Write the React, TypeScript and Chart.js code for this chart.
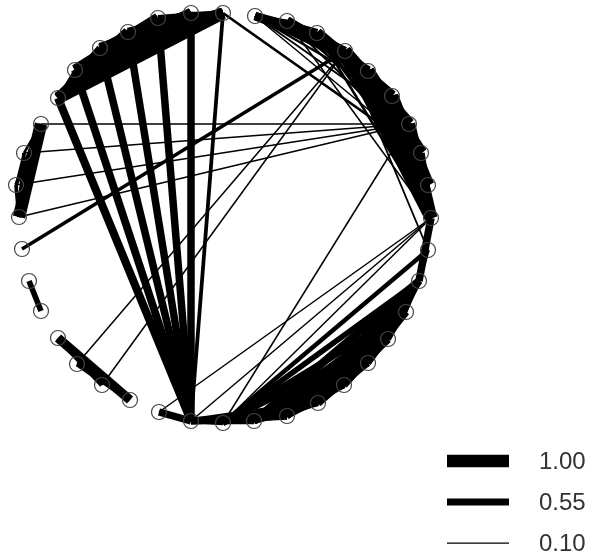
import React, { useEffect, useRef } from "react";
import { Chart, registerables } from "chart.js";

Chart.register(...registerables);

const nodeX = [223,255,287,317,345,368,392,409,421,428,431,428,419,406,388,368,344,318,287,254,223,191,159,130,102,77,58,41,29,22,19,16,24,41,58,75,100,128,158,191];
const nodeY = [13,16,21,33,51,71,96,124,153,185,218,250,281,312,339,363,385,403,416,421,423,421,412,400,385,364,338,311,281,249,217,185,153,124,98,70,48,32,18,13];

const edgeFrom = [
  // top-left group
  34,34,34,34,34,34,35,35,35,35,35,36,36,36,36,37,37,37,38,38,39,
  // hub 21 to the top-left group
  21,21,21,21,21,21,21,
  // left group
  33,33,33,32,32,31,
  // small groups
  27,26,26,25,22,21,21,21,21,
  // long thin lines
  33,32,31,30,0,29,25,24,22,21,20,20,20,20,4,
  // top-right band
  1,1,1,1,1,1,1,2,2,2,2,2,2,3,3,3,3,3,3,4,4,4,4,4,5,5,5,5,5,6,6,6,6,7,7,7,8,8,9,2,3,4,
  // lower-right mass
  20,20,19,19,19,19,18,18,18,18,18,17,17,17,17,16,16,16,15,15,14,14,13,12,12,20,19,18,19,18,17,16,15
];
const edgeTo = [
  0,35,36,37,38,39,36,37,38,39,0,37,38,39,0,38,39,0,39,0,0,
  34,35,36,37,38,39,0,
  32,31,30,31,30,30,
  28,23,24,23,21,20,19,18,17,
  7,7,7,7,8,4,4,4,10,10,7,10,11,12,11,
  2,3,4,5,6,7,8,3,4,5,6,7,8,4,5,6,7,8,9,5,6,7,8,9,6,7,8,9,10,7,8,9,10,8,9,10,9,10,10,10,10,10,
  13,14,13,14,15,16,13,14,15,16,17,14,15,16,13,15,14,13,14,13,13,12,12,11,10,16,17,19,12,12,12,12,12
];
const edgeWeight = [
  1.0,0.2,0.55,0.85,0.85,0.8,0.2,0.55,0.85,0.85,0.85,0.2,0.55,0.7,0.85,0.2,0.55,0.7,0.2,0.5,0.2,
  0.65,0.62,0.6,0.6,0.6,0.6,0.3,
  0.2,0.3,1.0,0.2,0.3,0.3,
  0.45,0.75,0.4,0.4,0.6,0.35,0.5,0.6,0.5,
  0.12,0.12,0.12,0.12,0.22,0.28,0.12,0.12,0.12,0.12,0.12,0.12,0.35,0.45,0.15,
  0.25,0.65,0.7,0.3,0.2,0.15,0.12,0.25,0.65,0.8,0.35,0.2,0.15,0.25,0.65,0.9,0.5,0.25,0.3,0.25,0.6,1,1,1,0.25,0.6,1,1,1,0.25,0.6,1,1,0.25,0.6,1,0.25,0.6,0.25,0.12,0.2,1,
  0.5,0.5,0.5,0.5,0.55,0.5,0.55,0.5,0.5,0.5,0.25,0.65,0.5,0.25,0.6,0.25,0.5,0.6,0.25,0.5,0.25,0.5,0.25,0.3,0.6,0.3,0.5,0.3,0.65,0.6,0.55,0.5,0.5
];

const legendValues = [1.0, 0.55, 0.1];
const legendLabels = ["1.00", "0.55", "0.10"];
const legendRowY = [461, 502, 543];
const legendLineX = [447, 509];
const legendTextX = 539;
const widthPerUnit = 12.5;

const textPlugin = {
  id: "legendText",
  afterDraw(chart: any) {
    const { ctx, scales } = chart;
    ctx.save();
    ctx.font = '24px "Liberation Sans", Arial, sans-serif';
    ctx.fillStyle = "#333333";
    ctx.textBaseline = "middle";
    ctx.textAlign = "left";
    legendLabels.forEach((t, i) => {
      ctx.fillText(t, scales.x.getPixelForValue(legendTextX), scales.y.getPixelForValue(legendRowY[i]) + 1);
    });
    ctx.restore();
  },
};

export default function App() {
  const ref = useRef<HTMLCanvasElement>(null);
  useEffect(() => {
    const edges = edgeFrom.map((a, i) => ({
      type: "line" as const,
      data: [
        { x: nodeX[a], y: nodeY[a] },
        { x: nodeX[edgeTo[i]], y: nodeY[edgeTo[i]] },
      ],
      borderColor: "#000000",
      borderWidth: edgeWeight[i] * widthPerUnit,
      borderCapStyle: "butt" as const,
      pointRadius: 0,
      tension: 0,
      order: 2,
    }));
    const legendLines = legendValues.map((v, i) => ({
      type: "line" as const,
      data: legendLineX.map((x) => ({ x, y: legendRowY[i] })),
      borderColor: "#000000",
      borderWidth: v * widthPerUnit,
      borderCapStyle: "butt" as const,
      pointRadius: 0,
      order: 2,
    }));
    const nodes = {
      type: "scatter" as const,
      data: nodeX.map((x, i) => ({ x, y: nodeY[i] })),
      pointRadius: 7.5,
      pointBackgroundColor: "rgba(255,255,255,0)",
      pointBorderColor: "#444444",
      pointBorderWidth: 1.2,
      showLine: false,
      order: 1,
    };
    const chart = new Chart(ref.current!, {
      type: "scatter",
      data: { datasets: [...edges, ...legendLines, nodes] as any },
      options: {
        responsive: false,
        animation: false,
        layout: { padding: 0, autoPadding: false },
        plugins: { legend: { display: false }, tooltip: { enabled: false } },
        scales: {
          x: { type: "linear", min: 0, max: 590, display: false },
          y: { type: "linear", min: 0, max: 554, reverse: true, display: false },
        },
      },
      plugins: [textPlugin],
    });
    return () => chart.destroy();
  }, []);
  return (
    <div style={{ position: "absolute", left: 0, top: 0, width: 590, height: 554, background: "#fff" }}>
      <canvas ref={ref} width={590} height={554} style={{ display: "block", filter: "blur(0.4px)" }} />
    </div>
  );
}
